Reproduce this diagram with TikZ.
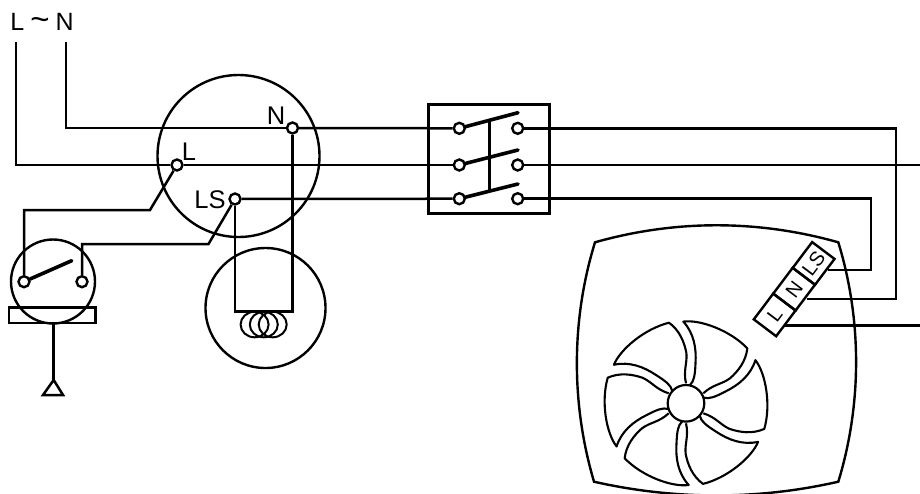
\documentclass[tikz,border=0pt]{standalone}
\usepackage{fontspec}
\setmainfont{Liberation Sans}
\usetikzlibrary{calc}
\tikzset{
  x=1pt,y=-1pt,
  wire/.style={line width=2.5pt,line join=miter},
  outline/.style={draw=black,line width=2.4pt,circle,inner sep=0pt,fill=none},
  terminal/.style={draw=black,line width=2.4pt,circle,inner sep=0pt,minimum size=11pt,fill=white},
  arm/.style={line width=3.6pt,line cap=round},
  lab/.style={inner sep=0pt,font=\fontsize{25.5}{26}\selectfont},
  cell/.style={draw=black,line width=2.4pt,rectangle,inner sep=0pt,minimum width=32.3pt,minimum height=28pt,rotate=53,font=\fontsize{20}{20}\selectfont},
  blade/.style={line width=2.1pt,line join=round}
}
\begin{document}
\begin{tikzpicture}
\useasboundingbox (0,0) rectangle (920,493);
% labels
\node[lab,font=\fontsize{25}{25}\selectfont] (top) at (42,22) {L\hspace{6pt}{\fontsize{33}{33}\selectfont\textasciitilde}\hspace{6pt}N};
\node[lab] (lN) at (276,116) {N};
\node[lab] (lL) at (189,152) {L};
\node[lab] (lLS) at (210,200) {LS};
% round housings
\node[outline,minimum size=162pt] (ctrl) at (238.5,156) {};
\node[outline,minimum size=84pt] (sensor) at (53,281.5) {};
\node[outline,minimum size=120pt] (lamp) at (265.5,308) {};
% terminals
\node[terminal] (Nc) at (292.5,128) {};
\node[terminal] (Lc) at (177,165) {};
\node[terminal] (Sc) at (235,199) {};
\node[terminal] (T1) at (24,281.7) {};
\node[terminal] (T2) at (82,281.7) {};
\node[terminal] (SL1) at (459.3,128.3) {};
\node[terminal] (SL2) at (459.3,165) {};
\node[terminal] (SL3) at (459.3,198.7) {};
\node[terminal] (SR1) at (517.7,128.3) {};
\node[terminal] (SR2) at (517.7,165) {};
\node[terminal] (SR3) at (517.7,198.7) {};
% three-pole switch box
\node[draw=black,line width=2.4pt,rectangle,inner sep=0pt,minimum width=121pt,minimum height=109pt] (box) at (488.8,158.8) {};
% fan terminal block
\node[cell] (fS) at (813.6,263.4) {LS};
\node[cell] (fN) at (794.1,289.2) {N};
\node[cell] (fL) at (774.7,314.9) {L};
% named points
\coordinate (Ltop) at (16,42);
\coordinate (Ntop) at (66,42);
\coordinate (Lend) at (920,165);
\coordinate (a1) at (150,210);
\coordinate (b1) at (208.5,244);
\coordinate (lampC) at (292.5,311.7);
\coordinate (nCor) at (896,299);
\coordinate (nEnd) at (807,299);
\coordinate (sCor) at (871,270);
\coordinate (sEnd) at (828,270);
\coordinate (wL) at (785,325.7);
\coordinate (wLend) at (920,325.7);
\coordinate (A1) at (518,112.7);
\coordinate (A2) at (518,150);
\coordinate (A3) at (518,184);
\coordinate (K1) at (489.3,120.7);
\coordinate (K2) at (489.3,190);
\coordinate (armT) at (71.7,260.7);
% wires
\draw[wire] (Ntop) |- (Nc);
\draw[wire] (Nc) -- (SL1);
\draw[wire] (SR1) -| (nCor) -- (nEnd);
\draw[wire] (Ltop) |- (Lc);
\draw[wire] (Lc) -- (SL2);
\draw[wire] (SR2) -- (Lend);
\draw[wire] (Sc) -- (SL3);
\draw[wire] (SR3) -| (sCor) -- (sEnd);
\draw[wire] (wL) -- (wLend);
\draw[wire] (Lc) -- (a1) -| (T1);
\draw[wire] (T2) |- (b1) -- (Sc);
\draw[wire] (Sc) |- (lampC) -- (Nc);
% switch arms
\draw[arm] (T1) -- (armT);
\draw[arm] (SL1) -- (A1);
\draw[arm] (SL2) -- (A2);
\draw[arm] (SL3) -- (A3);
\draw[wire] (K1) -- (K2);
% coil
\draw[line width=2pt] (254.6,324.5) ellipse (14 and 12.8);
\draw[line width=2pt] (263.8,324.5) ellipse (14 and 12.8);
\draw[line width=2pt] (272.7,324.5) ellipse (14 and 12.8);
% sensor base
\node[draw=black,line width=2.4pt,rectangle,inner sep=0pt,minimum width=86.5pt,minimum height=15.5pt] (base) at (52.2,315.2) {};
\coordinate (apex) at (53.7,380);
\draw[wire] (base.south -| apex) -- (apex);
\draw[wire,line join=miter] (apex) -- (43,395) -- (63,395) -- cycle;
% fan housing
\draw[line width=2.4pt,line join=miter] (595,242.3)
  .. controls (675,219.6) and (758,219.6) .. (838.3,242.3)
  .. controls (862,320) and (862,404) .. (838.3,481.7)
  .. controls (758,500) and (675,500) .. (594,481.7)
  .. controls (571,404) and (571,320) .. (595,242.3) -- cycle;
% fan
\node[outline,minimum size=36.6pt,line width=2.2pt] (hub) at (686,403.3) {};
\foreach \a in {0,60,...,300}{
  \begin{scope}[shift={(686,403.3)},rotate=\a]
    \draw[blade] (4,-18.3)
      .. controls (8,-22) and (9,-28) .. (9.5,-40)
      .. controls (10.5,-55) and (8,-70) .. (-2.67,-81.7)
      .. controls (14,-84) and (44,-73) .. (61.3,-55)
      .. controls (60,-42) and (52,-32) .. (44,-25)
      .. controls (36,-19) and (27,-19) .. (17.3,-10);
  \end{scope}
}
\end{tikzpicture}
\end{document}
